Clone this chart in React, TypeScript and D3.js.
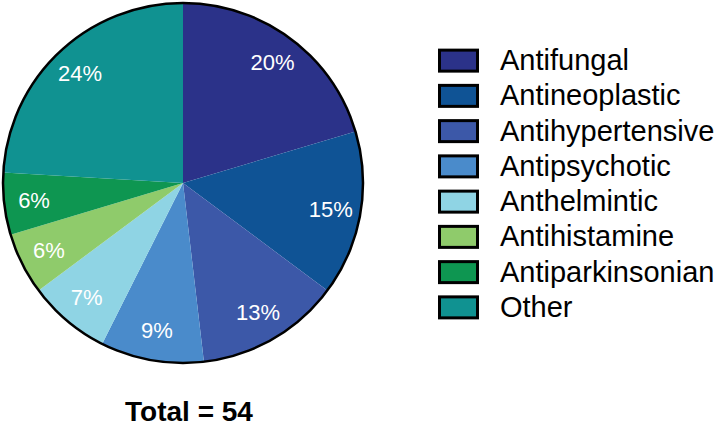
import React from "react";
import * as d3 from "d3";

const categories = ["Antifungal", "Antineoplastic", "Antihypertensive", "Antipsychotic", "Anthelmintic", "Antihistamine", "Antiparkinsonian", "Other"];
const counts = [11, 8, 7, 5, 4, 3, 3, 13];
const colors = ["#2B3289", "#0F5395", "#3C58A8", "#4A8BCB", "#8FD4E4", "#8FCB6B", "#0E9651", "#109291"];
const totalLabel = "Total = 54";

export default function App() {
  const W = 716, H = 429;
  const cx = 183, cy = 183, R = 180;
  const total = d3.sum(counts);
  const pie = d3.pie<number>().sort(null).value((d) => d);
  const arcs = pie(counts);
  const arc = d3.arc<d3.PieArcDatum<number>>().innerRadius(0).outerRadius(R);
  const labelArc = d3.arc<d3.PieArcDatum<number>>().innerRadius(150).outerRadius(150);
  const legendY = d3.scaleBand<string>().domain(categories).range([43, 325]).paddingInner(0);
  const font = "Liberation Sans, Arial, sans-serif";
  return (
    <svg width={W} height={H} style={{ position: "absolute", left: 0, top: 0, background: "#fff" }} fontFamily={font}>
      <g transform={`translate(${cx},${cy})`}>
        {arcs.map((a, i) => (
          <path key={i} d={arc(a) || ""} fill={colors[i]} />
        ))}
        <circle r={R} fill="none" stroke="#000" strokeWidth={2.5} />
        {arcs.map((a, i) => {
          const [x, y] = labelArc.centroid(a);
          return (
            <text key={i} x={x} y={y} textAnchor="middle" dominantBaseline="central" fill="#fff" fontSize={22}>
              {`${Math.round((counts[i] / total) * 100)}%`}
            </text>
          );
        })}
      </g>
      {categories.map((c, i) => {
        const y0 = legendY(c)!;
        const bh = legendY.bandwidth();
        return (
          <g key={c}>
            <rect x={439.5} y={y0 + bh / 2 - 10.5} width={38} height={21} fill={colors[i]} stroke="#000" strokeWidth={3} />
            <text x={500} y={y0 + bh / 2 + 9.5} fontSize={29} fill="#000">{c}</text>
          </g>
        );
      })}
      <text x={189} y={421} textAnchor="middle" fontSize={28} fontWeight="bold" fill="#000">{totalLabel}</text>
    </svg>
  );
}
